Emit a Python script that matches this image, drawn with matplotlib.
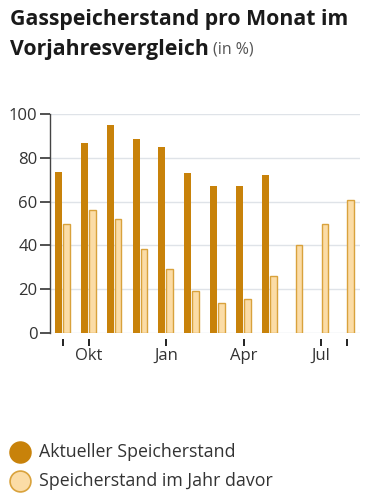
import numpy as np
import matplotlib.pyplot as plt

plt.rcParams['font.family'] = ['Open Sans', 'DejaVu Sans']

months = ['Sep', 'Okt', 'Nov', 'Dez', 'Jan', 'Feb', 'Mär', 'Apr', 'Mai', 'Jun', 'Jul', 'Aug']
aktuell = [73.5, 86.8, 95.1, 88.6, 85.1, 73.1, 67.0, 67.0, 72.3, np.nan, np.nan, np.nan]
vorjahr = [49.6, 56.3, 52.0, 38.4, 29.2, 19.3, 13.9, 15.5, 26.2, 40.2, 49.6, 60.9]
tick_months = ['Sep', 'Okt', 'Jan', 'Apr', 'Jul', 'Aug']
tick_labels = ['', 'Okt', 'Jan', 'Apr', 'Jul', '']

dark = '#c8820a'
light = '#fbdca6'
light_edge = '#d9a23c'
text_col = '#333333'

fig = plt.figure(figsize=(3.67, 5.0), dpi=100)
ax = fig.add_axes([0.136, 0.334, 0.845, 0.438])

x = np.arange(len(months))
ax.bar(x - 0.03, aktuell, width=-0.27, align='edge', color=dark, zorder=3)
ax.bar(x + 0.01, vorjahr, width=0.26, align='edge', color=light,
       edgecolor=light_edge, linewidth=1.0, zorder=3)

ax.set_xlim(-0.5, 11.5)
ax.set_ylim(0, 100)
ax.set_yticks([0, 20, 40, 60, 80, 100])
ax.set_xticks([months.index(m) for m in tick_months])
ax.set_xticklabels(tick_labels)
ax.grid(axis='y', color='#dfe3e8', linewidth=1.0, zorder=0)

for s in ['top', 'right', 'bottom']:
    ax.spines[s].set_visible(False)
ax.spines['bottom'].set_position(('outward', 4))
ax.spines['left'].set_color('#444444')
ax.spines['left'].set_linewidth(1.0)
ax.tick_params(axis='y', length=7, width=1.2, color='#333333', labelsize=12,
               labelcolor=text_col, pad=2)
ax.tick_params(axis='x', length=5, width=1.4, color='#222222', labelsize=12,
               labelcolor=text_col, pad=2)

fig.text(0.027, 0.962, 'Gasspeicherstand pro Monat im', fontsize=15.3,
         fontweight='bold', color='#1a1a1a', va='center')
t2 = fig.text(0.027, 0.902, 'Vorjahresvergleich', fontsize=15.3,
              fontweight='bold', color='#1a1a1a', va='center')
fig.canvas.draw()
bb = t2.get_window_extent().transformed(fig.transFigure.inverted())
fig.text(bb.x1 + 0.012, 0.900, '(in %)', fontsize=11.5, color='#555555', va='center')

for yy, fc, ec, lab in [(0.096, dark, dark, 'Aktueller Speicherstand'),
                        (0.038, light, light_edge, 'Speicherstand im Jahr davor')]:
    fig.lines.append(plt.Line2D([0.055], [yy], marker='o', markersize=15,
                                markerfacecolor=fc, markeredgecolor=ec,
                                markeredgewidth=1.2, transform=fig.transFigure))
    fig.text(0.105, yy, lab, fontsize=12.8, color=text_col, va='center')

fig.savefig('out.png', dpi=100)
